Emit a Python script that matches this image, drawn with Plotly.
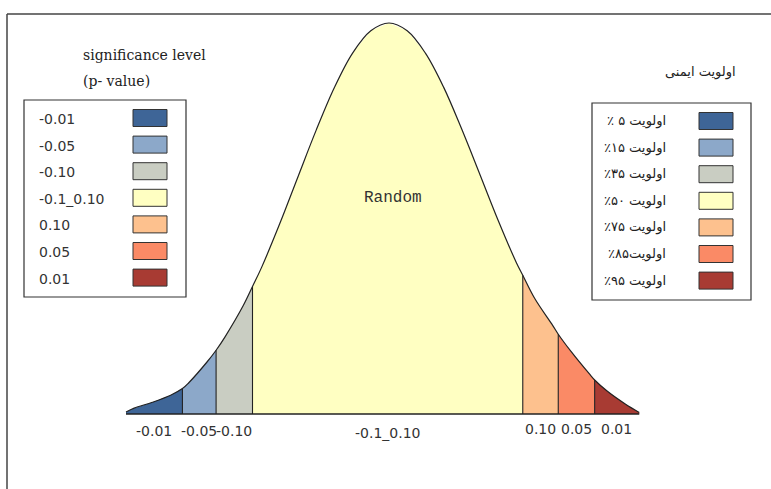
import plotly.graph_objects as go

# ---------------- data ----------------
curve_z = [-2.89, -2.8, -2.6, -2.4, -2.27, -2.2, -2.0, -1.9, -1.8, -1.6, -1.5, -1.4,
           -1.2, -1.0, -0.8, -0.6, -0.4, -0.2, 0.0, 0.2, 0.4, 0.6, 0.8, 1.0, 1.2,
           1.4, 1.47, 1.6, 1.8, 1.86, 2.0, 2.2, 2.26, 2.4, 2.6, 2.75]
curve_h = [0.005, 0.015, 0.030, 0.048, 0.065, 0.080, 0.133, 0.163, 0.198, 0.278, 0.326, 0.375,
           0.487, 0.607, 0.726, 0.835, 0.923, 0.980, 1.0, 0.980, 0.923, 0.836, 0.728, 0.612, 0.495,
           0.387, 0.355, 0.296, 0.226, 0.204, 0.160, 0.103, 0.087, 0.058, 0.025, 0.004]
boundaries = [-2.89, -2.27, -1.9, -1.5, 1.47, 1.86, 2.26, 2.75]
segment_labels = ["-0.01", "-0.05", "-0.10", "-0.1_0.10", "0.10", "0.05", "0.01"]
left_legend_title = ["significance level", "(p- value)"]
left_legend_labels = ["-0.01", "-0.05", "-0.10", "-0.1_0.10", "0.10", "0.05", "0.01"]
right_legend_title = "اولویت ایمنی"
right_legend_labels = ["اولویت ۵ ٪", "اولویت ۱۵٪", "اولویت ۳۵٪", "اولویت ۵۰٪",
                       "اولویت ۷۵٪", "اولویت۸۵٪", "اولویت ۹۵٪"]
center_label = "Random"

# ---------------- style ----------------
colors = ["#3E6597", "#8CA8C9", "#C9CDC2", "#FFFFC2", "#FDC18E", "#FA8A66", "#A83B33"]
W, H = 771, 489
X0, SX = 389.0, 91.0      # pixel of z=0, pixels per z unit
Y0, SY = 414.0, 391.0     # pixel of baseline, pixels per unit height
LINE = "#222222"
TXT = "#333333"


def px(x):
    return x / W


def py(y):
    return 1 - y / H


fig = go.Figure()

# filled segments
for i in range(len(boundaries) - 1):
    a, b = boundaries[i], boundaries[i + 1]
    pts = [(z, h) for z, h in zip(curve_z, curve_h) if a <= z <= b]
    xs = [a] + [p[0] for p in pts] + [b]
    ys = [0] + [p[1] for p in pts] + [0]
    fig.add_trace(go.Scatter(x=xs, y=ys, mode="lines", fill="toself",
                             fillcolor=colors[i], line=dict(width=0),
                             hoverinfo="skip", showlegend=False))

# vertical dividers
vx, vy = [], []
for b in boundaries[1:-1]:
    h = curve_h[curve_z.index(b)]
    vx += [b, b, None]
    vy += [0, h, None]
fig.add_trace(go.Scatter(x=vx, y=vy, mode="lines", line=dict(color=LINE, width=1.1),
                         hoverinfo="skip", showlegend=False))

# outline of curve
fig.add_trace(go.Scatter(x=curve_z, y=curve_h, mode="lines",
                         line=dict(color=LINE, width=1.2, shape="spline"),
                         hoverinfo="skip", showlegend=False))
# baseline
fig.add_trace(go.Scatter(x=[boundaries[0], boundaries[-1]], y=[0, 0], mode="lines",
                         line=dict(color=LINE, width=1.6),
                         hoverinfo="skip", showlegend=False))

annotations = []
# labels under segments
for i, lab in enumerate(segment_labels):
    mid = (boundaries[i] + boundaries[i + 1]) / 2
    ypix = 433 if i == 3 else (429 if i > 3 else 431)
    annotations.append(dict(x=mid, y=(Y0 - ypix) / SY, xref="x", yref="y", text=lab,
                            showarrow=False, font=dict(family="DejaVu Sans", size=14, color=TXT),
                            xanchor="center", yanchor="middle"))

annotations.append(dict(x=(393 - X0) / SX, y=(Y0 - 198) / SY, xref="x", yref="y",
                        text=center_label, showarrow=False,
                        font=dict(family="Liberation Mono", size=16, color="#333"),
                        xanchor="center", yanchor="middle"))

shapes = []
# outer frame (top and left)
shapes.append(dict(type="line", xref="paper", yref="paper", x0=px(7), x1=px(W + 5),
                   y0=py(14), y1=py(14), line=dict(color="#444", width=1.5)))
shapes.append(dict(type="line", xref="paper", yref="paper", x0=px(7), x1=px(7),
                   y0=py(14), y1=py(H + 5), line=dict(color="#444", width=1.5)))

# left legend
annotations.append(dict(x=px(81), y=py(55), xref="paper", yref="paper", text=left_legend_title[0],
                        showarrow=False, xanchor="left", yanchor="middle",
                        font=dict(family="DejaVu Serif", size=14, color="#222")))
annotations.append(dict(x=px(81), y=py(81), xref="paper", yref="paper", text=left_legend_title[1],
                        showarrow=False, xanchor="left", yanchor="middle",
                        font=dict(family="DejaVu Serif", size=14, color="#222")))
shapes.append(dict(type="rect", xref="paper", yref="paper", x0=px(24), x1=px(186),
                   y0=py(100), y1=py(297), line=dict(color="#333", width=1.2),
                   fillcolor="rgba(0,0,0,0)"))
for i, lab in enumerate(left_legend_labels):
    cy = 118 + 26.6 * i
    shapes.append(dict(type="rect", xref="paper", yref="paper", x0=px(133), x1=px(167),
                       y0=py(cy - 8.5), y1=py(cy + 8.5), line=dict(color="#333", width=1),
                       fillcolor=colors[i]))
    annotations.append(dict(x=px(37), y=py(cy + 1), xref="paper", yref="paper", text=lab,
                            showarrow=False, xanchor="left", yanchor="middle",
                            font=dict(family="DejaVu Sans", size=14, color=TXT)))

# right legend
annotations.append(dict(x=px(738), y=py(72), xref="paper", yref="paper",
                        text="\u200f" + right_legend_title + "\u200f",
                        showarrow=False, xanchor="right", yanchor="middle",
                        font=dict(family="DejaVu Sans", size=13, color="#222")))
shapes.append(dict(type="rect", xref="paper", yref="paper", x0=px(592), x1=px(751),
                   y0=py(103), y1=py(300), line=dict(color="#333", width=1.2),
                   fillcolor="rgba(0,0,0,0)"))
for i, lab in enumerate(right_legend_labels):
    cy = 121 + 26.6 * i
    shapes.append(dict(type="rect", xref="paper", yref="paper", x0=px(699), x1=px(733),
                       y0=py(cy - 8.5), y1=py(cy + 8.5), line=dict(color="#333", width=1),
                       fillcolor=colors[i]))
    annotations.append(dict(x=px(668), y=py(cy), xref="paper", yref="paper",
                            text="\u200f" + lab + "\u200f",
                            showarrow=False, xanchor="right", yanchor="middle",
                            font=dict(family="DejaVu Sans", size=13, color="#222")))

fig.update_layout(
    width=W, height=H,
    margin=dict(l=0, r=0, t=0, b=0, pad=0),
    paper_bgcolor="white", plot_bgcolor="white",
    xaxis=dict(range=[(0 - X0) / SX, (W - X0) / SX], visible=False, fixedrange=True),
    yaxis=dict(range=[(Y0 - H) / SY, Y0 / SY], visible=False, fixedrange=True),
    shapes=shapes, annotations=annotations,
    showlegend=False,
)

fig.write_html("out.html", config={"displayModeBar": False},
               post_script="document.body.style.margin='0';")
